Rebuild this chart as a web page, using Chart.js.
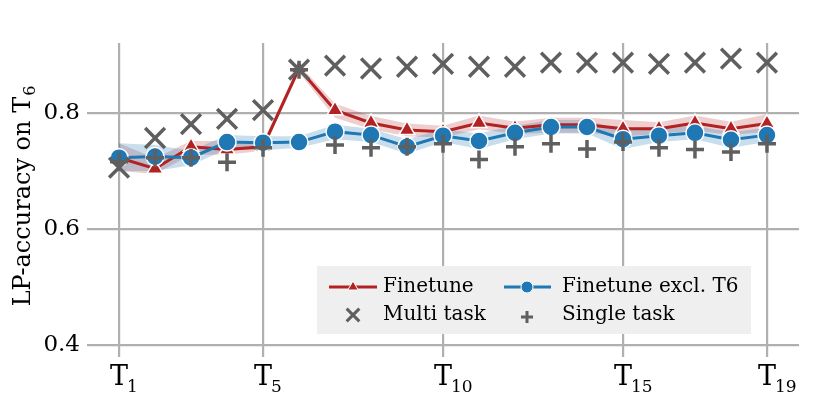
<!DOCTYPE html>
<html>
<head>
<meta charset="utf-8">
<script src="https://cdn.jsdelivr.net/npm/chart.js@4.4.0/dist/chart.umd.min.js"></script>
<style>
  html, body { margin: 0; padding: 0; background: #fff; }
  #wrap { width: 830px; height: 415px; }
</style>
</head>
<body>
<div id="wrap"><canvas id="lpChart" width="830" height="415"></canvas></div>
<script>
// task index on the x axis (T1 .. T19)
const tasks = [1, 2, 3, 4, 5, 6, 7, 8, 9, 10, 11, 12, 13, 14, 15, 16, 17, 18, 19];
const xTicks = [1, 5, 10, 15, 19];
const yTicks = [0.4, 0.6, 0.8];

// LP-accuracy on T6
const finetune     = [0.723, 0.704, 0.742, 0.737, 0.742, 0.877, 0.805, 0.783, 0.771, 0.768, 0.783, 0.774, 0.780, 0.780, 0.773, 0.773, 0.783, 0.773, 0.782];
const finetuneLow  = [0.700, 0.695, 0.728, 0.728, 0.735, 0.870, 0.792, 0.772, 0.760, 0.758, 0.772, 0.764, 0.766, 0.766, 0.760, 0.764, 0.770, 0.762, 0.768];
const finetuneHigh = [0.748, 0.722, 0.752, 0.752, 0.750, 0.884, 0.816, 0.795, 0.782, 0.778, 0.796, 0.785, 0.792, 0.792, 0.788, 0.784, 0.796, 0.785, 0.798];

const exclT6       = [0.723, 0.725, 0.723, 0.750, 0.749, 0.750, 0.768, 0.762, 0.742, 0.761, 0.752, 0.766, 0.776, 0.776, 0.755, 0.761, 0.766, 0.754, 0.762];
const exclLow      = [0.700, 0.700, 0.710, 0.738, 0.736, 0.740, 0.755, 0.750, 0.730, 0.750, 0.738, 0.755, 0.765, 0.765, 0.738, 0.750, 0.755, 0.740, 0.750];
const exclHigh     = [0.748, 0.745, 0.735, 0.762, 0.760, 0.760, 0.780, 0.773, 0.755, 0.772, 0.765, 0.778, 0.788, 0.788, 0.770, 0.773, 0.778, 0.767, 0.775];

const multiTask    = [0.706, 0.757, 0.781, 0.790, 0.805, 0.875, 0.882, 0.877, 0.880, 0.885, 0.880, 0.880, 0.887, 0.887, 0.887, 0.885, 0.887, 0.894, 0.887];
const singleTask   = [0.716, 0.723, 0.723, 0.715, 0.740, 0.875, 0.745, 0.740, 0.742, 0.747, 0.720, 0.742, 0.747, 0.738, 0.750, 0.740, 0.737, 0.733, 0.747];

const RED = '#b22222';
const BLUE = '#1f77b4';
const GRAY = '#5f5f5f';
const FONT = "'DejaVu Serif', serif";

const pts = arr => tasks.map((t, i) => ({ x: t, y: arr[i] }));

// draws the subscripted tick labels, the y title and the legend box
const textPlugin = {
    id: 'textPlugin',
    afterDraw(chart) {
        const ctx = chart.ctx;
        const xs = chart.scales.x;
        ctx.save();
        ctx.fillStyle = '#000';
        ctx.textBaseline = 'alphabetic';
        // x tick labels: T with subscript
        xTicks.forEach(v => {
            const px = xs.getPixelForValue(v);
            ctx.font = '27px ' + FONT;
            const w = ctx.measureText('T').width;
            ctx.textAlign = 'left';
            ctx.fillText('T', px - w / 2, 385);
            ctx.font = '17px ' + FONT;
            ctx.fillText(String(v), px + w / 2 - 1, 392);
        });

        // y axis title
        ctx.save();
        ctx.translate(21, 196);
        ctx.rotate(-Math.PI / 2);
        ctx.font = '24px ' + FONT;
        const main = 'LP-accuracy on T';
        const mw = ctx.measureText(main).width;
        ctx.font = '16px ' + FONT;
        const sw = ctx.measureText('6').width;
        const start = -(mw + sw + 1) / 2;
        ctx.font = '24px ' + FONT;
        ctx.fillText(main, start, 9);
        ctx.font = '16px ' + FONT;
        ctx.fillText('6', start + mw + 1, 14);
        ctx.restore();

        // legend
        ctx.fillStyle = '#efefef';
        ctx.fillRect(317, 266, 434, 68);
        const row1 = 287, row2 = 315;
        ctx.lineWidth = 3;
        ctx.strokeStyle = RED;
        ctx.beginPath(); ctx.moveTo(329, row1); ctx.lineTo(377, row1); ctx.stroke();
        ctx.fillStyle = RED; ctx.strokeStyle = '#fff'; ctx.lineWidth = 1;
        Chart.helpers.drawPoint(ctx, { pointStyle: 'triangle', radius: 6, borderWidth: 1 }, 353, row1);
        ctx.strokeStyle = BLUE; ctx.lineWidth = 3;
        ctx.beginPath(); ctx.moveTo(504, row1); ctx.lineTo(551, row1); ctx.stroke();
        ctx.fillStyle = BLUE; ctx.strokeStyle = '#fff'; ctx.lineWidth = 1;
        Chart.helpers.drawPoint(ctx, { pointStyle: 'circle', radius: 6, borderWidth: 1 }, 527, row1);
        ctx.strokeStyle = GRAY; ctx.lineWidth = 3;
        Chart.helpers.drawPoint(ctx, { pointStyle: 'crossRot', radius: 9, borderWidth: 3 }, 353, row2);
        Chart.helpers.drawPoint(ctx, { pointStyle: 'cross', radius: 6, borderWidth: 3 }, 527, row2 + 2);

        ctx.fillStyle = '#000';
        ctx.font = '20px ' + FONT;
        ctx.textAlign = 'left';
        ctx.textBaseline = 'middle';
        ctx.fillText('Finetune', 383, row1);
        ctx.fillText('Finetune excl. T6', 562, row1);
        ctx.fillText('Multi task', 383, row2);
        ctx.fillText('Single task', 562, row2);
        ctx.restore();
    }
};

const ctx = document.getElementById('lpChart').getContext('2d');
new Chart(ctx, {
    type: 'line',
    data: {
        datasets: [
            {   // lower edge of the finetune band
                data: pts(finetuneLow), pointRadius: 0, borderWidth: 0,
                borderColor: 'transparent', fill: false, order: 10
            },
            {
                data: pts(finetuneHigh), pointRadius: 0, borderWidth: 0,
                borderColor: 'transparent', backgroundColor: 'rgba(178, 34, 34, 0.22)',
                fill: '-1', order: 10
            },
            {
                data: pts(exclLow), pointRadius: 0, borderWidth: 0,
                borderColor: 'transparent', fill: false, order: 9
            },
            {
                data: pts(exclHigh), pointRadius: 0, borderWidth: 0,
                borderColor: 'transparent', backgroundColor: 'rgba(31, 119, 180, 0.24)',
                fill: '-1', order: 9
            },
            {
                label: 'Finetune',
                data: pts(finetune),
                borderColor: RED, borderWidth: 3,
                pointStyle: 'triangle', pointRadius: 9,
                pointBackgroundColor: RED, pointBorderColor: '#fff', pointBorderWidth: 1.5,
                fill: false, order: 4
            },
            {
                label: 'Finetune excl. T6',
                data: pts(exclT6),
                borderColor: BLUE, borderWidth: 3,
                pointStyle: 'circle', pointRadius: 9,
                pointBackgroundColor: BLUE, pointBorderColor: '#fff', pointBorderWidth: 1.5,
                fill: false, order: 3
            },
            {
                label: 'Multi task',
                data: pts(multiTask),
                showLine: false,
                pointStyle: 'crossRot', pointRadius: 14,
                pointBorderColor: GRAY, pointBorderWidth: 3.5,
                order: 2
            },
            {
                label: 'Single task',
                data: pts(singleTask),
                showLine: false,
                pointStyle: 'cross', pointRadius: 9,
                pointBorderColor: GRAY, pointBorderWidth: 3.5,
                order: 1
            }
        ]
    },
    options: {
        responsive: false,
        animation: false,
        layout: {
            padding: { top: 43, right: 31, left: 0, bottom: 0 }
        },
        plugins: {
            legend: { display: false },
            tooltip: { enabled: false }
        },
        scales: {
            x: {
                type: 'linear',
                min: 0.11,
                max: 19.89,
                afterBuildTicks: s => { s.ticks = xTicks.map(v => ({ value: v })); },
                afterFit: s => { s.height = 58; },
                ticks: { display: false },
                grid: { color: '#b0b0b0', lineWidth: 2.2, drawTicks: false },
                border: { display: false }
            },
            y: {
                min: 0.379,
                max: 0.921,
                afterBuildTicks: s => { s.ticks = yTicks.map(v => ({ value: v })); },
                afterFit: s => { s.width = 87; },
                ticks: {
                    color: '#000',
                    padding: 7,
                    font: { family: FONT, size: 23 },
                    callback: v => v.toFixed(1)
                },
                grid: { color: '#b0b0b0', lineWidth: 2.2, drawTicks: false },
                border: { display: false }
            }
        }
    },
    plugins: [textPlugin]
});
</script>
</body>
</html>
